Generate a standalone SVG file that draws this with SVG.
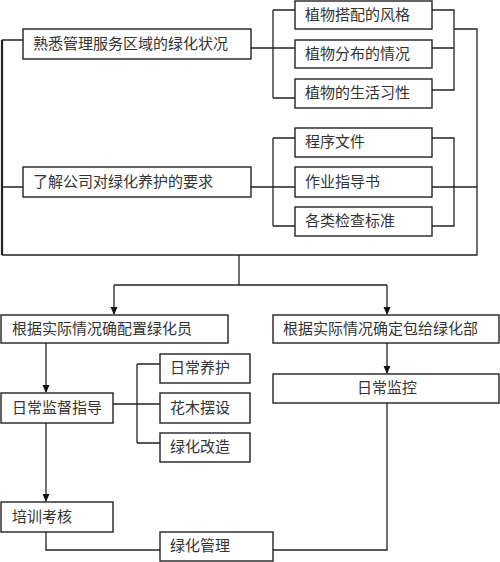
<svg xmlns="http://www.w3.org/2000/svg" width="500" height="562" viewBox="0 0 500 562">
<style>
.box{fill:#fff;stroke:#222;stroke-width:1.4}
.t{font-family:"Liberation Serif","Noto Sans CJK SC",serif;font-size:15px;fill:#333}
.c{fill:none;stroke:#222;stroke-width:1.3}
</style>
<defs>
<marker id="ah" markerWidth="8" markerHeight="8" refX="7" refY="4" orient="auto" markerUnits="userSpaceOnUse">
<path d="M0,0.5 L8,4 L0,7.5 Z" fill="#111"/>
</marker>
</defs>
<rect width="500" height="562" fill="#fff"/>
<g id="connectors">
<path class="c" d="M2,40 V255" style="stroke-width:2.2"/>
<path class="c" d="M2,255 H477 V29 H454"/>
<path class="c" d="M2,40 H23 M2,187 H23"/>
<path class="c" d="M251,48 H295 M273,10 V98 M273,10 H295 M273,98 H295"/>
<path class="c" d="M432,10 H454 V90 H432 M432,48 H454"/>
<path class="c" d="M251,187 H295 M273,138 V226 M273,138 H295 M273,226 H295"/>
<path class="c" d="M432,138 H454 V226 H432 M432,187 H477"/>
<path class="c" d="M239,255 V285 M114,285 H387"/>
<path class="c" d="M114,285 V314" marker-end="url(#ah)"/>
<path class="c" d="M387,285 V314" marker-end="url(#ah)"/>
<path class="c" d="M46,343 V392" marker-end="url(#ah)"/>
<path class="c" d="M387,343 V373" marker-end="url(#ah)"/>
<path class="c" d="M113,404 H160 M137,364 V443 M137,364 H160 M137,443 H160"/>
<path class="c" d="M46,423 V501" marker-end="url(#ah)"/>
<path class="c" d="M46,532 V550 H160 M273,550 H387 V403"/>
</g>
<g id="n1"><rect class="box" x="23" y="29" width="228" height="30"/><text class="t" x="33" y="49">熟悉管理服务区域的绿化状况</text></g>
<g id="a1"><rect class="box" x="295" y="1" width="137" height="28"/><text class="t" x="305" y="20">植物搭配的风格</text></g>
<g id="a2"><rect class="box" x="295" y="40" width="137" height="28"/><text class="t" x="305" y="59">植物分布的情况</text></g>
<g id="a3"><rect class="box" x="295" y="79" width="137" height="29"/><text class="t" x="305" y="98">植物的生活习性</text></g>
<g id="n2"><rect class="box" x="23" y="167" width="228" height="30"/><text class="t" x="33" y="187">了解公司对绿化养护的要求</text></g>
<g id="b1"><rect class="box" x="295" y="128" width="137" height="29"/><text class="t" x="305" y="147">程序文件</text></g>
<g id="b2"><rect class="box" x="295" y="167" width="137" height="30"/><text class="t" x="305" y="187">作业指导书</text></g>
<g id="b3"><rect class="box" x="295" y="207" width="137" height="29"/><text class="t" x="305" y="226">各类检查标准</text></g>
<g id="c1"><rect class="box" x="1" y="315" width="227" height="28"/><text class="t" x="12" y="334">根据实际情况确配置绿化员</text></g>
<g id="c2"><rect class="box" x="273" y="315" width="226" height="28"/><text class="t" x="283" y="334">根据实际情况确定包给绿化部</text></g>
<g id="d1"><rect class="box" x="1" y="393" width="112" height="30"/><text class="t" x="12" y="413">日常监督指导</text></g>
<g id="e1"><rect class="box" x="160" y="354" width="90" height="29"/><text class="t" x="170" y="373">日常养护</text></g>
<g id="e2"><rect class="box" x="160" y="393" width="90" height="30"/><text class="t" x="170" y="413">花木摆设</text></g>
<g id="e3"><rect class="box" x="160" y="433" width="90" height="29"/><text class="t" x="170" y="452">绿化改造</text></g>
<g id="f1"><rect class="box" x="273" y="374" width="226" height="29"/><text class="t" x="387" y="393" text-anchor="middle">日常监控</text></g>
<g id="g1"><rect class="box" x="1" y="502" width="112" height="30"/><text class="t" x="12" y="522">培训考核</text></g>
<g id="g2"><rect class="box" x="160" y="532" width="113" height="29"/><text class="t" x="170" y="551">绿化管理</text></g>
</svg>
